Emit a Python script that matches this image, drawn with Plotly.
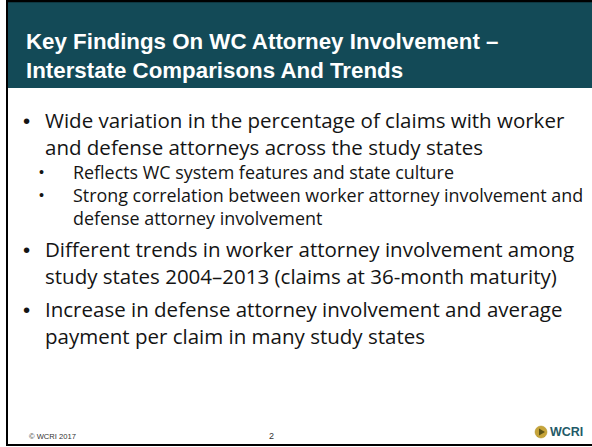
import plotly.graph_objects as go

# ---- content ----
title_lines = [
    "Key Findings On WC Attorney Involvement \u2013",
    "Interstate Comparisons And Trends",
]
bullet_levels = [1, 1, 2, 2, 2, 1, 1, 1, 1]
bullet_marks = [True, False, True, True, False, True, False, True, False]
bullet_texts = [
    "Wide variation in the percentage of claims with worker",
    "and defense attorneys across the study states",
    "Reflects WC system features and state culture",
    "Strong correlation between worker attorney involvement and",
    "defense attorney involvement",
    "Different trends in worker attorney involvement among",
    "study states 2004\u20132013 (claims at 36-month maturity)",
    "Increase in defense attorney involvement and average",
    "payment per claim in many study states",
]
line_centers = [120, 147, 172, 195, 218, 249, 276, 309, 336]
footer_left = "\u00a9 WCRI 2017"
page_number = "2"
logo_text = "WCRI"

# ---- styles ----
W, H = 592, 447
TEAL = "#134a57"
TITLE_FONT = "Liberation Sans, Arial, sans-serif"
BODY_FONT = "Open Sans, Liberation Sans, Arial, sans-serif"
TEXT_COLOR = "#141414"

fig = go.Figure()
fig.add_trace(go.Scatter(x=[0], y=[0], mode="markers", marker=dict(opacity=0),
                         hoverinfo="skip", showlegend=False))

shapes = []
# header band
shapes.append(dict(type="rect", x0=7, x1=W, y0=2, y1=88, fillcolor=TEAL,
                   line=dict(width=0), layer="below"))
# borders
shapes.append(dict(type="line", x0=6, x1=W, y0=1, y1=1, line=dict(color="black", width=2.5)))
shapes.append(dict(type="line", x0=7, x1=7, y0=0, y1=446, line=dict(color="black", width=2)))
shapes.append(dict(type="line", x0=6, x1=W, y0=445, y1=445, line=dict(color="black", width=2)))
# logo
shapes.append(dict(type="circle", x0=535, x1=547, y0=426, y1=438,
                   fillcolor="#c6a43a", line=dict(color="#b09020", width=0.5)))
shapes.append(dict(type="path", path="M 539 428.5 L 539 435.5 L 545 432 Z",
                   fillcolor="#5c5418", line=dict(width=0)))

annotations = []
for i, t in enumerate(title_lines):
    annotations.append(dict(x=24, y=41 + i * 29, text=t, showarrow=False,
                            xanchor="left", yanchor="middle",
                            font=dict(family=TITLE_FONT, size=22.3, color="white", weight="bold")))

for lvl, mark, txt, center in zip(bullet_levels, bullet_marks, bullet_texts, line_centers):
    size = 20.5 if lvl == 1 else 17.9
    tx = 43 if lvl == 1 else 71
    bx = 21 if lvl == 1 else 37
    annotations.append(dict(x=tx, y=center, text=txt, showarrow=False,
                            xanchor="left", yanchor="middle",
                            font=dict(family=BODY_FONT, size=size, color=TEXT_COLOR)))
    if mark:
        annotations.append(dict(x=bx, y=center, text="\u2022", showarrow=False,
                                xanchor="left", yanchor="middle",
                                font=dict(family=TITLE_FONT, size=size * (1.0 if lvl == 1 else 0.8),
                                          color=TEXT_COLOR)))

annotations.append(dict(x=27, y=436, text=footer_left, showarrow=False, xanchor="left",
                        yanchor="middle", font=dict(family=TITLE_FONT, size=7.6, color="#333")))
annotations.append(dict(x=271, y=436, text=page_number, showarrow=False, xanchor="center",
                        yanchor="middle", font=dict(family=TITLE_FONT, size=9, color="#333")))
annotations.append(dict(x=548, y=432, text=logo_text, showarrow=False, xanchor="left",
                        yanchor="middle",
                        font=dict(family=TITLE_FONT, size=12.5, color="#1f5a68", weight="bold")))

fig.update_layout(
    width=W, height=H, margin=dict(l=0, r=0, t=0, b=0),
    paper_bgcolor="white", plot_bgcolor="white",
    xaxis=dict(range=[0, W], visible=False, fixedrange=True),
    yaxis=dict(range=[H, 0], visible=False, fixedrange=True),
    shapes=shapes, annotations=annotations, showlegend=False,
)
fig.write_html("out.html", config={"displayModeBar": False},
               post_script="document.body.style.margin='0';document.body.style.overflow='hidden';")
